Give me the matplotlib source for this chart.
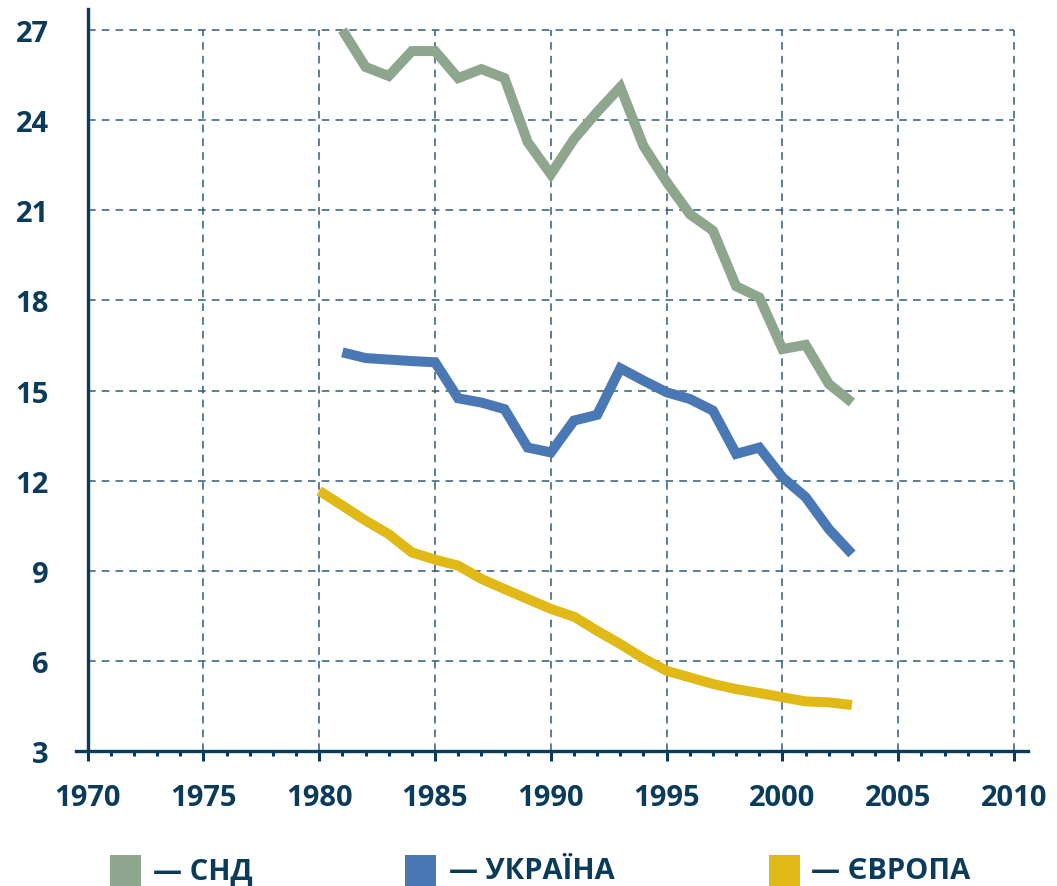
import matplotlib
matplotlib.use("Agg")
import matplotlib.pyplot as plt
from matplotlib.patches import Rectangle

# ---- data ----
years_cis = list(range(1981, 2004))
cis = [27.0, 25.77, 25.47, 26.3, 26.3, 25.4, 25.7, 25.4, 23.27, 22.2, 23.37, 24.27,
       25.1, 23.14, 21.94, 20.87, 20.32, 18.47, 18.1, 16.38, 16.52, 15.22, 14.6]

years_ukr = list(range(1981, 2004))
ukraine = [16.27, 16.08, 16.03, 15.98, 15.94, 14.74, 14.6, 14.38, 13.1, 12.94, 14.0,
           14.19, 15.74, 15.33, 14.94, 14.72, 14.33, 12.89, 13.1, 12.11, 11.45, 10.39, 9.56]

years_eur = list(range(1980, 2004))
europe = [11.66, 11.17, 10.67, 10.22, 9.61, 9.37, 9.17, 8.73, 8.39, 8.06, 7.73, 7.47,
          7.0, 6.56, 6.08, 5.67, 5.45, 5.23, 5.06, 4.93, 4.79, 4.65, 4.62, 4.53]

series_names = ["СНД", "УКРАЇНА", "ЄВРОПА"]
series_colors = ["#8fa68e", "#4a78b4", "#e0b917"]

x_ticks = list(range(1970, 2011, 5))
y_ticks = list(range(3, 28, 3))

# ---- style ----
TEXT = "#0b3b5a"
GRID = "#2f5d79"
FONT = ["Open Sans", "DejaVu Sans"]
plt.rcParams["font.family"] = FONT
plt.rcParams["font.weight"] = "bold"

W, H = 1057, 887
fig = plt.figure(figsize=(W / 100, H / 100), dpi=100)
ax = fig.add_axes([76 / W, (H - 752) / H, (1028 - 76) / W, (752 - 10) / H])

ax.set_xlim(1969.5, 2010.6)
ax.set_ylim(3, 27.7)

# grid box (from 1970 to 2010, 3 to 27)
ax.hlines(y_ticks[1:], x_ticks[0], x_ticks[-1], colors=GRID, linewidth=1.1,
          linestyles=(0, (5, 4)), zorder=1)
ax.vlines(x_ticks[1:], y_ticks[0], y_ticks[-1], colors=GRID, linewidth=1.1,
          linestyles=(0, (5, 4)), zorder=1)

for xs, ys, c in zip([years_cis, years_ukr, years_eur], [cis, ukraine, europe], series_colors):
    ax.plot(xs, ys, color=c, linewidth=7.2, solid_joinstyle="miter",
            solid_capstyle="butt", zorder=3)

# spines
for s in ["top", "right"]:
    ax.spines[s].set_visible(False)
ax.spines["left"].set_position(("data", 1970))
ax.spines["left"].set_color(TEXT)
ax.spines["left"].set_linewidth(2.4)
ax.spines["bottom"].set_color(TEXT)
ax.spines["bottom"].set_linewidth(2.4)

ax.set_xticks(x_ticks)
ax.set_xticks(list(range(1970, 2011)), minor=True)
ax.set_yticks(y_ticks)
ax.tick_params(axis="x", which="major", direction="out", length=7, width=2.2,
               color=TEXT, labelsize=21, labelcolor=TEXT, pad=16)
ax.tick_params(axis="x", which="minor", direction="out", length=3.5, width=2.2, color=TEXT)
ax.tick_params(axis="y", which="both", length=0, labelsize=21, labelcolor=TEXT, pad=28)
for lab in ax.get_xticklabels() + ax.get_yticklabels():
    lab.set_fontweight("bold")

# legend (manual)
sq = 31
sq_x = [110, 405, 769]
txt_x = [153, 449, 811]
cy = 871.5
for name, c, sx, tx in zip(series_names, series_colors, sq_x, txt_x):
    fig.patches.append(Rectangle((sx / W, (H - cy - sq / 2) / H), sq / W, sq / H,
                                 transform=fig.transFigure, facecolor=c,
                                 edgecolor="none"))
    fig.text(tx / W, (H - cy) / H, "— " + name, fontsize=21, fontweight="bold",
             color=TEXT, va="center", ha="left", family=FONT)

fig.savefig("out.png", dpi=100)
